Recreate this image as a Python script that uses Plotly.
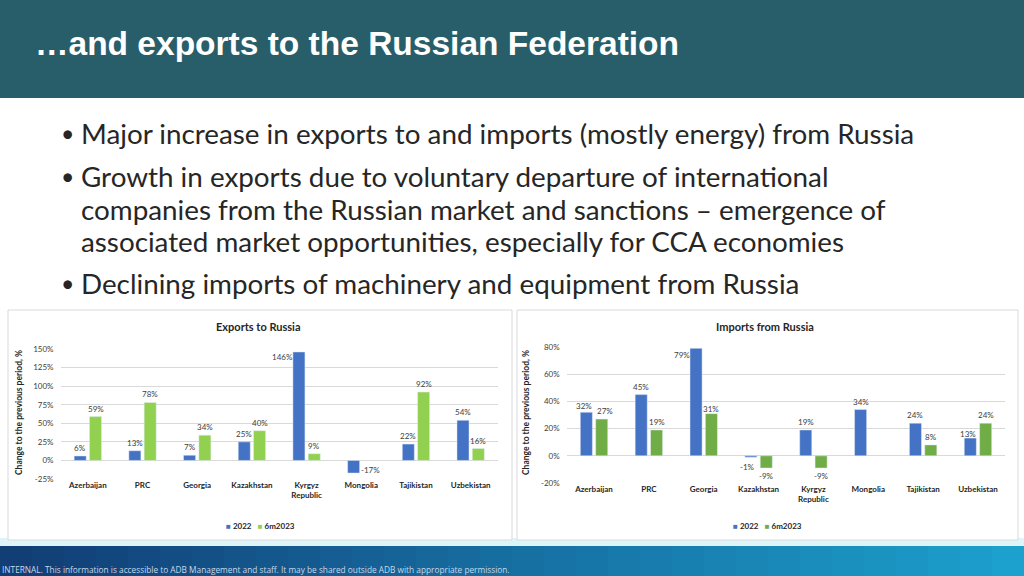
import plotly.graph_objects as go

countries = ["Azerbaijan", "PRC", "Georgia", "Kazakhstan", "Kyrgyz<br>Republic",
             "Mongolia", "Tajikistan", "Uzbekistan"]
exp_2022 = [6, 13, 7, 25, 146, -17, 22, 54]
exp_6m2023 = [59, 78, 34, 40, 9, None, 92, 16]
imp_2022 = [32, 45, 79, -1, 19, 34, 24, 13]
imp_6m2023 = [27, 19, 31, -9, -9, None, 8, 24]

exp_ticks = [-25, 0, 25, 50, 75, 100, 125, 150]
imp_ticks = [-20, 0, 20, 40, 60, 80]

title = "…and exports to the Russian Federation"
bullets = [
    ["Major increase in exports to and imports (mostly energy) from Russia"],
    ["Growth in exports due to voluntary departure of international",
     "companies from the Russian market and sanctions – emergence of",
     "associated market opportunities, especially for CCA economies"],
    ["Declining imports of machinery and equipment from Russia"],
]
footer = ("INTERNAL. This information is accessible to ADB Management and staff. "
          "It may be shared outside ADB with appropriate permission.")

W, H = 1024, 576
def px(x): return x / W
def py(y): return 1 - y / H

BLUE = "#4472C4"
GREEN_L = "#92D050"
GREEN_R = "#70AD47"
CF = "Lato"
TXT = "#262626"

# label position tweaks (pixels): (series, index) -> (dx, dy)
exp_tweak = {(0, 4): (-16, -5), (0, 5): (17, 3)}
imp_tweak = {(0, 0): (-2, 6), (1, 0): (3, 8), (0, 2): (-14, -7), (1, 2): (0, 5),
             (0, 3): (-3, -10), (0, 7): (-2, 4)}

BW = 0.22       # bar width (category units)
BOFF = [-0.25, 0.03]
PXCAT = 54.8    # pixels per category

fig = go.Figure()
series_sets = [
    ("x", "y", [exp_2022, exp_6m2023], [BLUE, GREEN_L], exp_tweak),
    ("x2", "y2", [imp_2022, imp_6m2023], [BLUE, GREEN_R], imp_tweak),
]
ann = []
for xa, ya, vals, cols, tweak in series_sets:
    for s, (v, c) in enumerate(zip(vals, cols)):
        fig.add_trace(go.Bar(x=countries, y=v, marker_color=c, width=BW, offset=BOFF[s],
                             showlegend=False, xaxis=xa, yaxis=ya))
        for i, val in enumerate(v):
            if val is None:
                continue
            dx, dy = tweak.get((s, i), (0, 8 if val >= 0 else -8))
            ann.append(dict(text=f"{val}%", x=countries[i], y=val, xref=xa, yref=ya,
                            xshift=(BOFF[s] + BW / 2) * PXCAT + dx, yshift=dy,
                            showarrow=False, xanchor="center", yanchor="middle",
                            font=dict(family=CF, size=8, color="#404040")))

shapes = []
shapes.append(dict(type="rect", xref="paper", yref="paper", x0=0, x1=1, y0=py(98), y1=1,
                   fillcolor="#285E6A", line_width=0, layer="below"))
shapes.append(dict(type="rect", xref="paper", yref="paper", x0=0, x1=1, y0=py(546), y1=py(538),
                   fillcolor="#DDF5F8", line_width=0, layer="below"))
n = 32
c0 = (18, 62, 118)
c1 = (28, 160, 205)
for i in range(n):
    t = i / (n - 1)
    c = tuple(int(c0[k] + (c1[k] - c0[k]) * t) for k in range(3))
    shapes.append(dict(type="rect", xref="paper", yref="paper",
                       x0=i / n, x1=(i + 1) / n + 0.002, y0=0, y1=py(546),
                       fillcolor="rgb(%d,%d,%d)" % c, line_width=0, layer="below"))
for x0, x1 in [(8, 512), (517, 1018)]:
    shapes.append(dict(type="rect", xref="paper", yref="paper", x0=px(x0), x1=px(x1),
                       y0=py(540), y1=py(310), fillcolor="white",
                       line=dict(color="#D9D9D9", width=1), layer="below"))

ann.append(dict(text="<b>" + title + "</b>", x=px(33), y=py(44), xref="paper", yref="paper",
                xanchor="left", yanchor="middle", showarrow=False,
                font=dict(family="Liberation Sans", size=33.5, color="white")))
line_y = [[133], [176, 210, 241], [283]]
for b, ys in zip(bullets, line_y):
    ann.append(dict(text="•", x=px(59), y=py(ys[0]), xref="paper", yref="paper",
                    xanchor="left", yanchor="middle", showarrow=False,
                    font=dict(family=CF, size=23, color=TXT)))
    for t, yy in zip(b, ys):
        ann.append(dict(text=t, x=px(79), y=py(yy), xref="paper", yref="paper",
                        xanchor="left", yanchor="middle", showarrow=False,
                        font=dict(family=CF, size=27.8, color=TXT)))
ann.append(dict(text=footer, x=0, y=py(569), xref="paper", yref="paper",
                xanchor="left", yanchor="middle", showarrow=False,
                font=dict(family="Open Sans", size=8.3, color="#C8D8E8")))
for t, x in [("Exports to Russia", 258), ("Imports from Russia", 765)]:
    ann.append(dict(text="<b>" + t + "</b>", x=px(x), y=py(326), xref="paper", yref="paper",
                    xanchor="center", yanchor="middle", showarrow=False,
                    font=dict(family=CF, size=11, color=TXT)))
for x in [19, 526]:
    ann.append(dict(text="<b>Change to the previous period, %</b>", x=px(x), y=py(413),
                    xref="paper", yref="paper", textangle=-90,
                    xanchor="center", yanchor="middle", showarrow=False,
                    font=dict(family=CF, size=8.5, color=TXT)))
for x, g in [(260, GREEN_L), (767, GREEN_R)]:
    ann.append(dict(text=(f"<span style='color:{BLUE}'>■</span> <b>2022</b>"
                          f"&nbsp;&nbsp;&nbsp;<span style='color:{g}'>■</span> <b>6m2023</b>"),
                    x=px(x), y=py(526), xref="paper", yref="paper",
                    xanchor="center", yanchor="middle", showarrow=False,
                    font=dict(family=CF, size=8, color=TXT)))

xcommon = dict(showline=False, ticks="", tickfont=dict(family=CF, size=8, color=TXT),
               tickvals=countries, ticktext=["<b>" + c + "</b>" for c in countries],
               automargin=False)
ycommon = dict(showgrid=True, gridcolor="#D9D9D9", gridwidth=1, zeroline=True,
               zerolinecolor="#D9D9D9", zerolinewidth=1, automargin=False,
               ticklabelstandoff=6,
               tickfont=dict(family=CF, size=8, color="#404040"), ticks="", showline=False)

fig.update_layout(
    width=W, height=H, margin=dict(l=0, r=0, t=0, b=0, pad=0, autoexpand=False),
    paper_bgcolor="white", plot_bgcolor="rgba(0,0,0,0)",
    barmode="overlay",
    shapes=shapes, annotations=ann, showlegend=False,
    xaxis=dict(domain=[px(60.5), px(498)], anchor="y", **xcommon),
    yaxis=dict(domain=[py(479), py(349)], anchor="x", range=[-25, 150],
               tickvals=exp_ticks, ticktext=[f"{v}%" for v in exp_ticks], **ycommon),
    xaxis2=dict(domain=[px(566.6), px(1005.4)], anchor="y2", **xcommon),
    yaxis2=dict(domain=[py(483), py(347)], anchor="x2", range=[-20, 80],
                tickvals=imp_ticks, ticktext=[f"{v}%" for v in imp_ticks], **ycommon),
)
fig.write_html(
    "out.html",
    config={"displayModeBar": False},
    post_script=("document.body.style.margin='0';document.body.style.overflow='hidden';"
                 "var d=document.getElementById('{plot_id}');"
                 "d.style.position='fixed';d.style.top='0px';d.style.left='0px';"),
)
